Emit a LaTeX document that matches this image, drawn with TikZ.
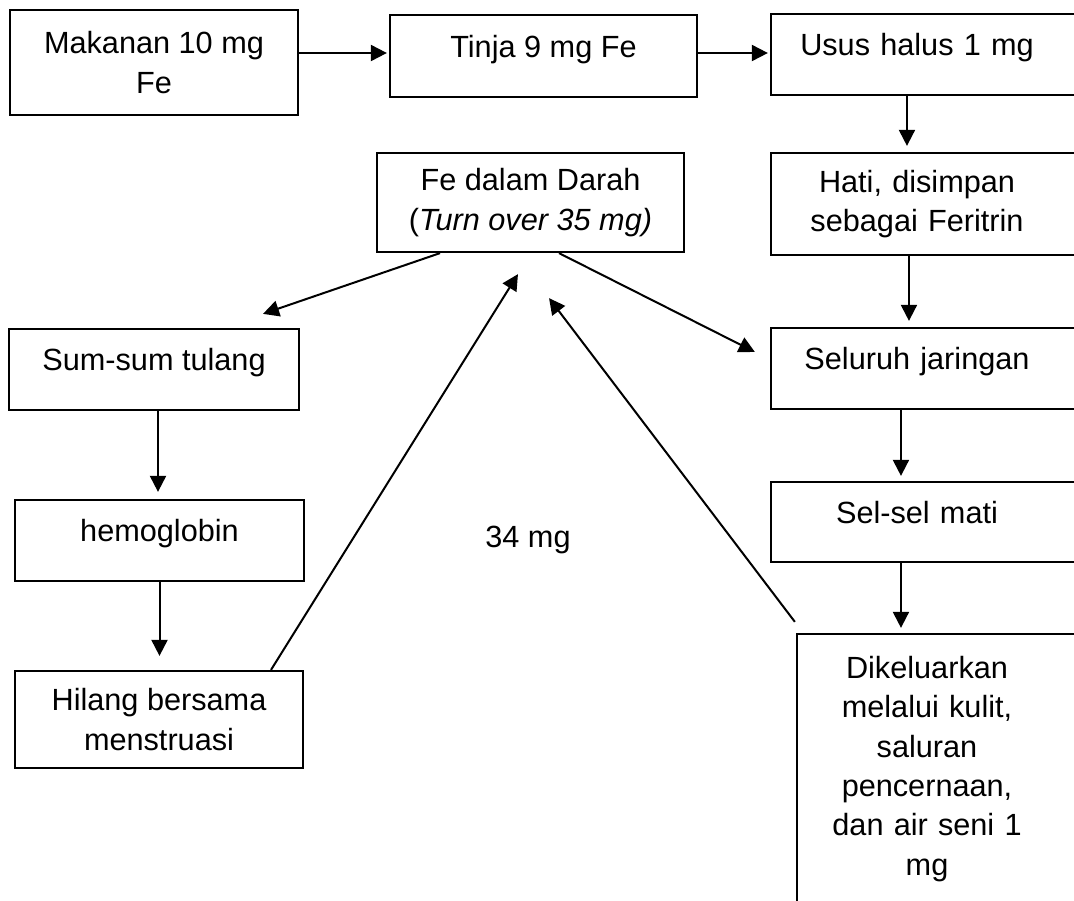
\documentclass[tikz,border=0pt]{standalone}
\usepackage{fontspec}
\setmainfont{Liberation Sans}
\usetikzlibrary{arrows.meta}
\tikzset{
  box/.style={draw, line width=1.7pt, align=center, inner sep=4pt,
              font=\fontsize{23}{29.5}\selectfont},
  onel/.style={text height=17pt, text depth=15.5pt},
  rbox/.style={box, minimum width=231.75pt, text width=200pt,
               execute at begin node={\advance\rightskip by 12.75pt}},
  arr/.style={-{Triangle[length=12pt, width=12pt]}, line width=1.5pt},
}
\begin{document}
\begin{tikzpicture}[x=0.75pt, y=-0.75pt]

  \path[use as bounding box, fill=white] (0,0) rectangle (1074,900);
  \clip (0,0) rectangle (1074,900);

  % --- top row ---
  \node[box, minimum width=216pt, minimum height=78.75pt] (mak) at (154,62.5) {Makanan 10 mg\\Fe};
  \node[box, onel, minimum width=230.25pt, minimum height=61.5pt] (tin) at (543.5,56) {Tinja 9 mg Fe};
  \node[rbox, onel, minimum height=60.75pt] (usu) at (925.5,54.5) {Usus halus 1 mg};

  % --- blood ---
  \node[box, minimum width=230.25pt, minimum height=74.25pt] (dar) at (530.5,202.5) {Fe dalam Darah\\(\textit{Turn over 35 mg)}};

  % --- right column ---
  \node[rbox, minimum height=76.5pt] (hat) at (925.5,204) {Hati, disimpan\\sebagai Feritrin};
  \node[rbox, onel, minimum height=60.75pt] (sel) at (925.5,368.5) {Seluruh jaringan};
  \node[rbox, onel, minimum height=60pt] (mat) at (925.5,522) {Sel-sel mati};
  \node[box, minimum width=212.25pt, minimum height=202.5pt, text width=185pt,
        execute at begin node={\advance\rightskip by 17.25pt}] (kel) at (938.5,769)
       {Dikeluarkan\\melalui kulit,\\saluran\\pencernaan,\\dan air seni 1\\mg};

  % --- left column ---
  \node[box, onel, minimum width=217.5pt, minimum height=60.75pt] (sum) at (154,369.5) {Sum-sum tulang};
  \node[box, onel, minimum width=216.75pt, minimum height=60.75pt] (hem) at (159.5,540.5) {hemoglobin};
  \node[box, minimum width=216pt, minimum height=72.75pt] (hil) at (159,719.5) {Hilang bersama\\menstruasi};

  \node[font=\fontsize{23}{29.5}\selectfont] (lbl) at (528,540) {34 mg};

  % --- arrows ---
  \draw[arr, shorten >=1.5pt] ([yshift=2.25pt]tin.west -| mak.east) -- ([yshift=2.25pt]tin.west);
  \draw[arr, shorten >=1.5pt] ([yshift=2.25pt]tin.east) -- ([yshift=2.25pt]tin.east -| usu.west);
  \draw[arr, shorten >=4.5pt] ([xshift=-13.9pt]usu.south) -- ([xshift=-13.9pt]usu.south |- hat.north);
  \draw[arr, shorten >=4.5pt] ([xshift=-12.4pt]hat.south) -- ([xshift=-12.4pt]hat.south |- sel.north);
  \draw[arr, shorten >=3.75pt] ([xshift=-18.4pt]sel.south) -- ([xshift=-18.4pt]sel.south |- mat.north);
  \draw[arr, shorten >=3.75pt] ([xshift=-18.4pt]mat.south) -- ([xshift=-18.4pt]mat.south |- kel.north);
  \draw[arr, shorten >=5.25pt] ([xshift=3pt]sum.south) -- ([xshift=3pt]sum.south |- hem.north);
  \draw[arr, shorten >=10.5pt] (hem.south) -- (hem.south |- hil.north);

  \draw[arr] ([xshift=-67.9pt]dar.south) -- ([xshift=81.75pt, yshift=10.5pt]sum.north);
  \draw[arr] ([xshift=21.4pt]dar.south) -- ([xshift=-11.25pt, yshift=12.4pt]sel.west);
  \draw[arr] ([xshift=84pt]hil.north) -- ([xshift=-9.4pt, yshift=-15.75pt]dar.south);
  \draw[arr] ([xshift=-0.75pt, yshift=8.25pt]kel.north west) -- ([xshift=13.9pt, yshift=-33.75pt]dar.south);

\end{tikzpicture}
\end{document}
